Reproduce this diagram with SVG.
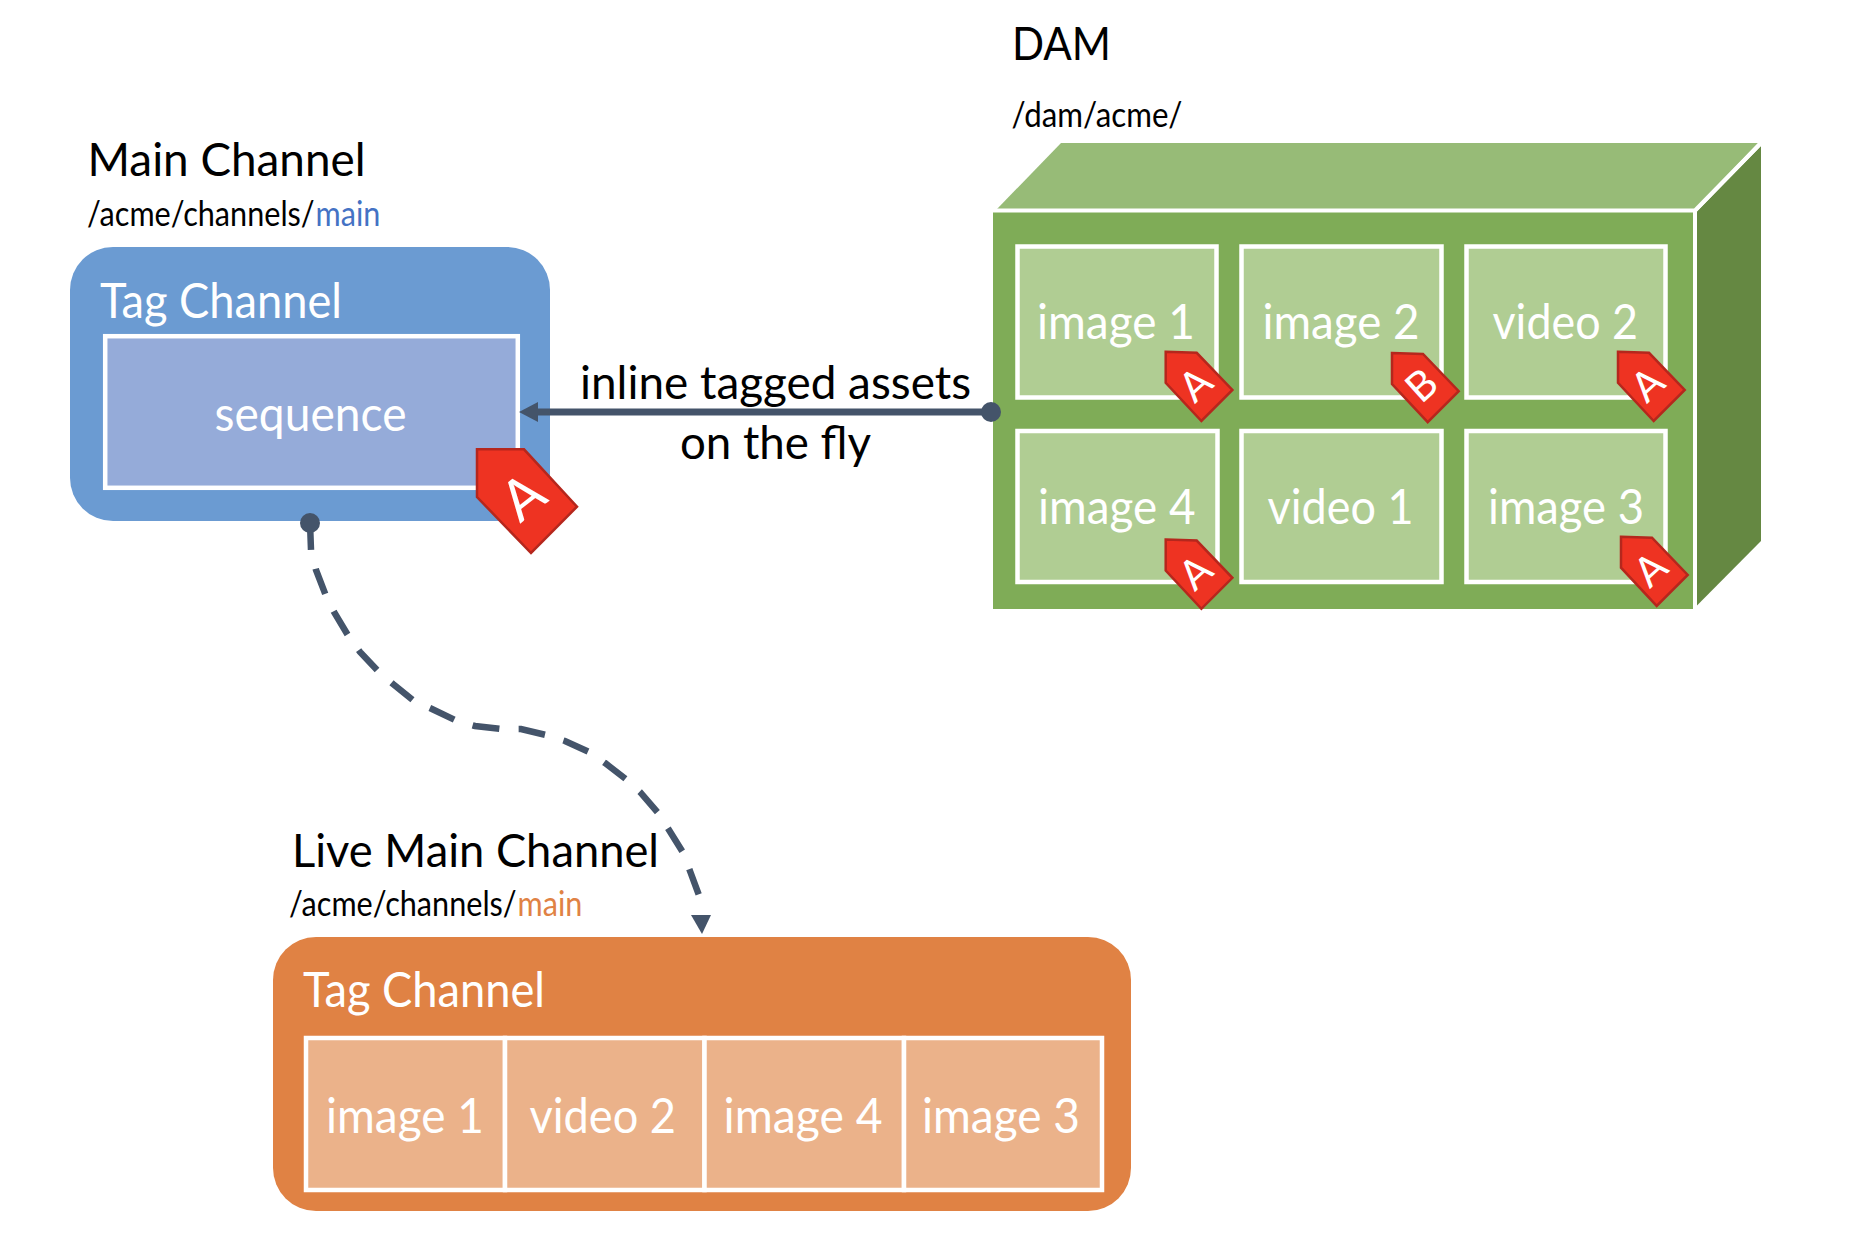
<svg xmlns="http://www.w3.org/2000/svg" width="1856" height="1256" viewBox="0 0 1856 1256">
<style>
text{font-family:"Lato","Liberation Sans",sans-serif}
.h{font-size:46px;fill:#000}
.p{font-size:34px;fill:#000}
.w{font-size:48px;fill:#fff}
.cell{stroke:#fff;stroke-width:4.5}
.tag{fill:#ee3322;stroke:#b5271d;stroke-width:2.5}
.tl{font-size:41px;fill:#fff;text-anchor:middle}
</style>
<defs>
<polygon id="smalltag" points="0,0 31,1 66.7,38.2 35.7,69.2 0,31"/>
</defs>
<rect width="1856" height="1256" fill="#fff"/>
<g id="main-channel">
<text class="h" x="87.500" y="175.500" textLength="278" lengthAdjust="spacingAndGlyphs">Main Channel</text>
<text class="p" transform="translate(87,226) scale(.9,1)"><tspan x="0" textLength="253" lengthAdjust="spacingAndGlyphs">/acme/channels/</tspan><tspan x="254" textLength="72" lengthAdjust="spacingAndGlyphs" fill="#4472c4">main</tspan></text>
<rect x="70" y="247" width="480" height="274" rx="43" fill="#6b9bd2"/>
<text class="w" x="100" y="317.500" textLength="242" lengthAdjust="spacingAndGlyphs">Tag Channel</text>
<rect class="cell" x="105.200" y="336.200" width="412.600" height="151.600" fill="#95abd9"/>
<text class="w" x="214.500" y="430.500" textLength="192" lengthAdjust="spacingAndGlyphs">sequence</text>
<polygon class="tag" points="477,449.300 524,449.300 577,506.700 531,553 477,497"/>
<text class="tl" transform="translate(535,512) rotate(-38)" style="font-size:56px">A</text>
</g>
<g id="dam">
<text class="h" x="1012" y="60" textLength="99" lengthAdjust="spacingAndGlyphs">DAM</text>
<text class="p" x="1011.500" y="127" textLength="171" lengthAdjust="spacingAndGlyphs">/dam/acme/</text>
<polygon points="1061,143 1758,143 1695.500,209 997,209" fill="#97bb77"/>
<polygon points="1761,146 1761,541 1696.500,606 1696.500,212" fill="#658842"/>
<rect x="993" y="212" width="700" height="397" fill="#7fac57"/>
<path d="M993,210.500H1695L1760,144" fill="none" stroke="#fff" stroke-width="4"/>
<path d="M1695,210V608" fill="none" stroke="#fff" stroke-width="4"/>
<g id="dam-image-1"><rect class="cell" x="1017.500" y="246.500" width="199" height="151" fill="#b0cd93"/><text class="w" x="1037" y="339" textLength="158" lengthAdjust="spacingAndGlyphs">image 1</text></g>
<g id="dam-image-2"><rect class="cell" x="1241.500" y="246.500" width="200" height="151" fill="#b0cd93"/><text class="w" x="1262.500" y="339" textLength="157" lengthAdjust="spacingAndGlyphs">image 2</text></g>
<g id="dam-video-2"><rect class="cell" x="1466.500" y="246.500" width="199" height="151" fill="#b0cd93"/><text class="w" x="1492.500" y="339" textLength="145.500" lengthAdjust="spacingAndGlyphs">video 2</text></g>
<g id="dam-image-4"><rect class="cell" x="1017.500" y="431" width="200" height="151" fill="#b0cd93"/><text class="w" x="1038" y="524" textLength="157.500" lengthAdjust="spacingAndGlyphs">image 4</text></g>
<g id="dam-video-1"><rect class="cell" x="1241.500" y="431" width="200" height="151" fill="#b0cd93"/><text class="w" x="1267.500" y="524" textLength="146" lengthAdjust="spacingAndGlyphs">video 1</text></g>
<g id="dam-image-3"><rect class="cell" x="1466.500" y="431" width="199" height="151" fill="#b0cd93"/><text class="w" x="1488" y="524" textLength="156" lengthAdjust="spacingAndGlyphs">image 3</text></g>
<g id="tag-a1"><use href="#smalltag" class="tag" x="1165.700" y="351.800"/><text class="tl" transform="translate(1205,395) rotate(-42)">A</text></g>
<g id="tag-b"><use href="#smalltag" class="tag" x="1392" y="353"/><text class="tl" transform="translate(1431,396) rotate(-42)">B</text></g>
<g id="tag-a2"><use href="#smalltag" class="tag" x="1618" y="351.800"/><text class="tl" transform="translate(1657,395) rotate(-42)">A</text></g>
<g id="tag-a3"><use href="#smalltag" class="tag" x="1165.700" y="539.600"/><text class="tl" transform="translate(1205,583) rotate(-42)">A</text></g>
<g id="tag-a4"><use href="#smalltag" class="tag" x="1621" y="536.700"/><text class="tl" transform="translate(1660,580) rotate(-42)">A</text></g>
</g>
<g id="live-channel">
<text class="h" x="292" y="867" textLength="367" lengthAdjust="spacingAndGlyphs">Live Main Channel</text>
<text class="p" transform="translate(289,916) scale(.9,1)"><tspan x="0" textLength="253" lengthAdjust="spacingAndGlyphs">/acme/channels/</tspan><tspan x="254" textLength="72" lengthAdjust="spacingAndGlyphs" fill="#e08244">main</tspan></text>
<rect x="273" y="937" width="858" height="274" rx="43" fill="#e08244"/>
<text class="w" x="303" y="1006.500" textLength="242" lengthAdjust="spacingAndGlyphs">Tag Channel</text>
<g id="live-image-1"><rect class="cell" x="306" y="1038" width="199" height="152" fill="#ebb28a"/><text class="w" x="326" y="1132.500" textLength="158" lengthAdjust="spacingAndGlyphs">image 1</text></g>
<g id="live-video-2"><rect class="cell" x="505" y="1038" width="199.500" height="152" fill="#ebb28a"/><text class="w" x="529.500" y="1132.500" textLength="146.500" lengthAdjust="spacingAndGlyphs">video 2</text></g>
<g id="live-image-4"><rect class="cell" x="704.500" y="1038" width="199.500" height="152" fill="#ebb28a"/><text class="w" x="723.600" y="1132.500" textLength="159" lengthAdjust="spacingAndGlyphs">image 4</text></g>
<g id="live-image-3"><rect class="cell" x="904" y="1038" width="198" height="152" fill="#ebb28a"/><text class="w" x="922" y="1132.500" textLength="158" lengthAdjust="spacingAndGlyphs">image 3</text></g>
</g>
<g id="connectors" fill="none" stroke="#44546a" stroke-width="6.500">
<line x1="991" y1="412" x2="536" y2="412" stroke-width="7"/>
<polygon points="519,412 538,402 538,422" fill="#44546a" stroke="none"/>
<circle cx="991" cy="412" r="10" fill="#44546a" stroke="none"/>
<polyline points="310,523 311,550 316,570 326,596 334,612 349,637 360,652 379,672 393,684 414,701 432,709 457,721 475,726 501,729 521,729 546,735 565,741 589,752 605,763 627,780 640,792 659,814 669,830 684,854 690,871 700,898" stroke-dasharray="27 19.300"/>
<polygon points="691,915 711,915 702,934" fill="#44546a" stroke="none"/>
<circle cx="310" cy="523" r="10" fill="#44546a" stroke="none"/>
</g>
<g id="connector-label">
<text class="h" x="580" y="398.500" textLength="391" lengthAdjust="spacingAndGlyphs">inline tagged assets</text>
<text class="h" x="680" y="459" textLength="191" lengthAdjust="spacingAndGlyphs">on the fly</text>
</g>
</svg>
